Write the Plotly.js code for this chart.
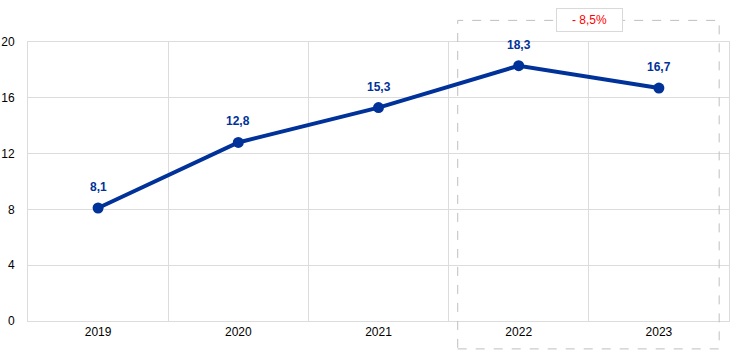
<!DOCTYPE html>
<html>
<head>
<meta charset="utf-8">
<script src="https://cdn.plot.ly/plotly-3.0.1.min.js"></script>
<style>html,body{margin:0;padding:0;background:#fff;}</style>
</head>
<body>
<div id="chart" style="width:744px;height:354px;"></div>
<script>
const years = ['2019', '2020', '2021', '2022', '2023'];
const values = [8.1, 12.8, 15.3, 18.3, 16.7];
const changeLabel = '- 8,5%';
const yTicks = [0, 4, 8, 12, 16, 20];

const blue = '#003299';
const grid = '#dcdcdc';
const fmt = v => v.toFixed(1).replace('.', ',');

const trace = {
  x: years,
  y: values,
  type: 'scatter',
  mode: 'lines+markers',
  line: {color: blue, width: 4},
  marker: {color: blue, size: 11},
  hoverinfo: 'skip'
};

const annotations = years.map((yr, i) => ({
  x: i, y: values[i], xref: 'x', yref: 'y',
  xanchor: 'center', yanchor: 'middle',
  text: '<b>' + fmt(values[i]) + '</b>',
  showarrow: false, yshift: 21,
  font: {family: 'Liberation Sans, Arial, sans-serif', size: 12, color: blue}
}));

annotations.push({
  x: 0.8015, y: 1.0775, xref: 'paper', yref: 'paper',
  xanchor: 'center', yanchor: 'middle',
  text: changeLabel, showarrow: false,
  bgcolor: '#ffffff', bordercolor: '#d9d9d9', borderwidth: 1,
  width: 65, height: 22, borderpad: 0,
  font: {family: 'Liberation Sans, Arial, sans-serif', size: 12, color: '#ff0000'}
});

const layout = {
  width: 744, height: 354,
  margin: {l: 28, r: 15, t: 42, b: 33},
  paper_bgcolor: '#ffffff', plot_bgcolor: '#ffffff',
  showlegend: false,
  font: {family: 'Liberation Sans, Arial, sans-serif', size: 12, color: '#000000'},
  xaxis: {
    type: 'category', range: [-0.5, 4.5],
    tickson: 'boundaries', showgrid: true, gridcolor: grid, gridwidth: 1,
    showline: true, linecolor: grid, linewidth: 1, mirror: true,
    ticks: '', fixedrange: true,
    tickfont: {size: 12, color: '#000000'}
  },
  yaxis: {
    range: [0, 20], tickvals: yTicks, ticktext: yTicks.map(String),
    showgrid: true, gridcolor: grid, gridwidth: 1,
    zeroline: false, showline: true, linecolor: grid, linewidth: 1, mirror: true,
    ticks: '', ticklabelstandoff: 10,
    tickfont: {size: 12, color: '#000000'}, fixedrange: true
  },
  shapes: [{
    type: 'rect', xref: 'paper', yref: 'paper',
    x0: 0.613, x1: 0.986, y0: -0.1, y1: 1.0775,
    line: {color: '#bfbfbf', width: 1, dash: 'dash'},
    fillcolor: 'rgba(0,0,0,0)', layer: 'above'
  }],
  annotations: annotations
};

Plotly.newPlot('chart', [trace], layout, {displayModeBar: false, staticPlot: true});
</script>
</body>
</html>
